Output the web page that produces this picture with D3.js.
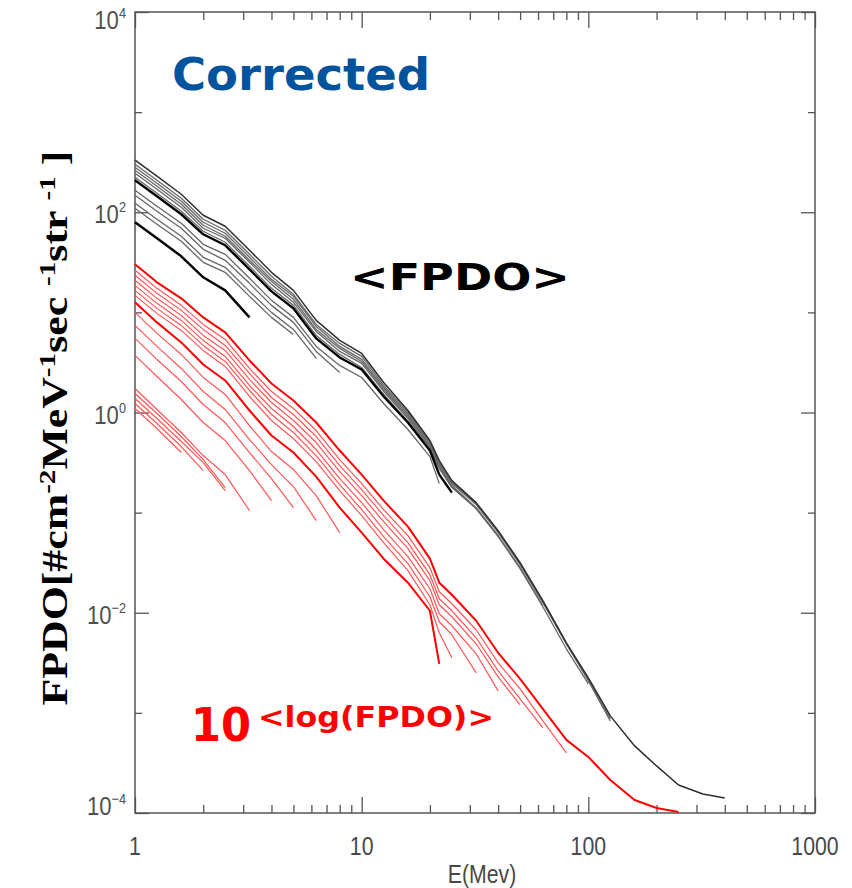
<!DOCTYPE html>
<html>
<head>
<meta charset="utf-8">
<script src="https://cdn.jsdelivr.net/npm/d3@7"></script>
<style>
  body { margin: 0; background: #fff; }
</style>
</head>
<body>
<svg width="852" height="888"></svg>
<script>
// energy grid (MeV) shared by every curve
const energy = [1, 1.25, 1.6, 2, 2.5, 3.2, 4, 5, 6.3, 8, 10, 12.5, 16, 20, 22, 25, 32, 40, 50, 63, 80, 100, 125, 160, 200, 250, 320, 400];

// <FPDO> curves, log10 of flux
const fpdoMean = [
  [2.52, 2.36, 2.18, 1.97, 1.86, 1.62, 1.40, 1.22, 0.92, 0.72, 0.59, 0.30, 0.02, -0.28, -0.48, -0.68, -0.90, -1.18, -1.50, -1.88, -2.30, -2.65, -3.03, -3.33, -3.53, -3.72, -3.81, -3.85],
  [2.48, 2.32, 2.14, 1.93, 1.82, 1.58, 1.36, 1.18, 0.88, 0.69, 0.56, 0.27, 0.00, -0.30, -0.50, -0.70, -0.91, -1.19, -1.51, -1.89, -2.31, -2.66, -3.06],
  [2.45, 2.29, 2.11, 1.90, 1.79, 1.55, 1.33, 1.16, 0.86, 0.66, 0.53, 0.25, -0.02, -0.32, -0.51, -0.71, -0.92, -1.20, -1.52, -1.90, -2.31, -2.68, -3.08],
  [2.42, 2.26, 2.08, 1.87, 1.76, 1.52, 1.31, 1.13, 0.83, 0.64, 0.51, 0.23, -0.04, -0.33, -0.53, -0.74, -0.96, -1.24, -1.56, -1.94, -2.36, -2.71],
  [2.39, 2.23, 2.05, 1.84, 1.74, 1.50, 1.28, 1.10, 0.81, 0.61, 0.49, 0.21, -0.06, -0.35, -0.54, -0.73, -0.95, -1.23, -1.55, -1.93],
  [2.35, 2.19, 2.01, 1.81, 1.70, 1.46, 1.24, 1.07, 0.77, 0.58, 0.45, 0.18, -0.09, -0.37, -0.56, -0.75, -0.96, -1.23],
  [2.32, 2.16, 1.98, 1.78, 1.67, 1.43, 1.21, 1.04, 0.74, 0.55, 0.43, 0.16, -0.10, -0.38, -0.62, -0.80],
  [2.22, 2.06, 1.89, 1.68, 1.58, 1.34, 1.12, 0.95, 0.66, 0.47, 0.35, 0.09, -0.17, -0.44, -0.71],
  [2.17, 2.01, 1.84, 1.63, 1.52, 1.29, 1.07, 0.90, 0.61, 0.40],
  [2.09, 1.93, 1.76, 1.55, 1.45, 1.21, 1.00, 0.83, 0.54],
  [2.04, 1.88, 1.71, 1.50, 1.40, 1.16, 0.95, 0.78],
  [1.90, 1.74, 1.56, 1.35, 1.22, 0.95]
];

// 10^<log(FPDO)> curves, log10 of flux
const fpdoLogMean = [
  [1.48, 1.30, 1.14, 0.95, 0.80, 0.52, 0.29, 0.12, -0.10, -0.38, -0.62, -0.88, -1.14, -1.46, -1.70, -1.82, -2.08, -2.40, -2.66, -2.96, -3.27, -3.44, -3.67, -3.87, -3.95, -3.99],
  [1.42, 1.24, 1.07, 0.88, 0.73, 0.44, 0.21, 0.04, -0.18, -0.47, -0.71, -0.97, -1.23, -1.55, -1.79, -1.91, -2.17, -2.50, -2.76, -3.08, -3.40],
  [1.37, 1.19, 1.02, 0.83, 0.67, 0.39, 0.15, -0.02, -0.24, -0.53, -0.77, -1.03, -1.30, -1.62, -1.86, -1.98, -2.25, -2.58, -2.86, -3.15],
  [1.32, 1.14, 0.97, 0.77, 0.62, 0.33, 0.10, -0.08, -0.30, -0.59, -0.83, -1.09, -1.36, -1.68, -1.92, -2.04, -2.31, -2.64, -2.92],
  [1.27, 1.09, 0.92, 0.72, 0.56, 0.27, 0.04, -0.14, -0.37, -0.66, -0.90, -1.17, -1.44, -1.76, -2.01, -2.13, -2.41, -2.78],
  [1.22, 1.04, 0.87, 0.67, 0.51, 0.22, -0.02, -0.20, -0.43, -0.72, -0.97, -1.24, -1.51, -1.84, -2.09, -2.22, -2.60],
  [1.17, 0.99, 0.82, 0.62, 0.46, 0.16, -0.08, -0.26, -0.49, -0.78, -1.03, -1.30, -1.58, -1.92, -2.20, -2.45],
  [1.10, 0.90, 0.70, 0.48, 0.32, 0.02, -0.23, -0.40, -0.64, -0.95, -1.20, -1.46, -1.70, -1.98, -2.51],
  [1.00, 0.79, 0.58, 0.35, 0.18, -0.13, -0.39, -0.57, -0.83, -1.20],
  [0.87, 0.66, 0.44, 0.21, 0.03, -0.27, -0.52, -0.74, -1.08],
  [0.74, 0.53, 0.31, 0.08, -0.10, -0.40, -0.66, -0.95],
  [0.57, 0.36, 0.13, -0.10, -0.28, -0.58, -0.88],
  [0.24, 0.03, -0.20, -0.43, -0.62, -0.98],
  [0.19, -0.01, -0.24, -0.47, -0.75],
  [0.14, -0.06, -0.29, -0.50, -0.78],
  [0.09, -0.11, -0.34, -0.58],
  [0.04, -0.16, -0.40]
];

const xMajor = [1, 10, 100, 1000];
const xMinor = [2, 3, 4, 5, 6, 7, 8, 9, 20, 30, 40, 50, 60, 70, 80, 90, 200, 300, 400, 500, 600, 700, 800, 900];
const yMajorExp = [-4, -2, 0, 2, 4];
const yMinorExp = [-3, -1, 1, 3];

const W = 852, H = 888;
const margin = {top: 12, right: 37, bottom: 75, left: 135};
const svg = d3.select("svg");

const x = d3.scaleLog().domain([1, 1000]).range([margin.left, W - margin.right]);
const y = d3.scaleLog().domain([1e-4, 1e4]).range([H - margin.bottom, margin.top]);

const axisColor = "#555";

// ticks (all inward)
function ticks(axis, at, vals, size) {
  const g = svg.append("g")
    .attr("transform", at)
    .call(axis.tickValues(vals).tickSizeInner(-size).tickSizeOuter(0).tickFormat(""));
  g.select(".domain").remove();
  g.selectAll("line").attr("stroke", axisColor).attr("stroke-width", 1.3);
}
const yMaj = yMajorExp.map(e => Math.pow(10, e));
const yMin = yMinorExp.map(e => Math.pow(10, e));
ticks(d3.axisBottom(x), `translate(0,${y.range()[0]})`, xMajor, 16);
ticks(d3.axisBottom(x), `translate(0,${y.range()[0]})`, xMinor, 8);
ticks(d3.axisTop(x), `translate(0,${y.range()[1]})`, xMajor, 16);
ticks(d3.axisTop(x), `translate(0,${y.range()[1]})`, xMinor, 8);
ticks(d3.axisLeft(y), `translate(${x.range()[0]},0)`, yMaj, 14);
ticks(d3.axisLeft(y), `translate(${x.range()[0]},0)`, yMin, 7);
ticks(d3.axisRight(y), `translate(${x.range()[1]},0)`, yMaj, 14);
ticks(d3.axisRight(y), `translate(${x.range()[1]},0)`, yMin, 7);

svg.append("rect")
  .attr("x", x.range()[0]).attr("y", y.range()[1])
  .attr("width", x.range()[1] - x.range()[0])
  .attr("height", y.range()[0] - y.range()[1])
  .attr("fill", "none").attr("stroke", axisColor).attr("stroke-width", 1.5);

// tick labels
const tickFont = "'Liberation Sans Narrow', 'Liberation Sans', Arial, sans-serif";
svg.append("g").selectAll("text")
  .data(xMajor).enter().append("text")
  .attr("transform", d => `translate(${x(d)},855) scale(0.85,1)`)
  .attr("text-anchor", "middle")
  .attr("font-family", tickFont).attr("font-size", 25)
  .attr("fill", "#484848")
  .text(d => d);

// label baselines: the end labels are nudged inside the frame like the original
const yLabelBase = e => e === 4 ? y(1e4) + 17 : e === -4 ? y(1e-4) + 2 : y(Math.pow(10, e)) + 11;
const yl = svg.append("g").selectAll("text")
  .data(yMajorExp).enter().append("text")
  .attr("transform", e => `translate(${x.range()[0] - 9},${yLabelBase(e)}) scale(0.85,1)`)
  .attr("text-anchor", "end")
  .attr("font-family", tickFont)
  .attr("fill", "#505050");
yl.append("tspan").attr("font-size", 26).text("10");
yl.append("tspan").attr("font-size", 15).attr("dy", -11).text(e => String(e).replace("-", "\u2212"));

svg.append("text")
  .attr("transform", `translate(${(x.range()[0] + x.range()[1]) / 2 + 7},883) scale(0.85,1)`)
  .attr("text-anchor", "middle")
  .attr("font-family", tickFont).attr("font-size", 25)
  .attr("fill", "#484848")
  .text("E(Mev)");

// y title
const yt = svg.append("text")
  .attr("text-anchor", "middle")
  .attr("font-family", "'Liberation Serif', 'Times New Roman', serif")
  .attr("font-weight", "bold")
  .attr("font-size", 36)
  .attr("fill", "#000");
const parts = [["FPDO[#cm", 0], ["-2", 1], ["MeV", 0], ["-1", 1], ["sec ", 0], ["-1", 1], ["str ", 0], ["-1", 1], [" ]", 0]];
let up = false;
parts.forEach(([t, sup]) => {
  const ts = yt.append("tspan").text(t);
  if (sup) { ts.attr("font-size", 24).attr("dy", -12); up = true; }
  else if (up) { ts.attr("dy", 12); up = false; }
});
const ytLen = yt.node().getComputedTextLength();
yt.attr("transform", `translate(67,428) rotate(-90) scale(${555 / ytLen},1)`);

// curves
const line = d3.line()
  .x((d, i) => x(energy[i]))
  .y(d => y(Math.pow(10, d)));

const plot = svg.append("g");

const blackThick = [6, 11];
const blackOrder = d3.range(fpdoMean.length).sort((a, b) => (blackThick.includes(a) - blackThick.includes(b)) || (b - a));
plot.selectAll(".black")
  .data(blackOrder).enter().append("path")
  .attr("class", "black")
  .attr("d", i => line(fpdoMean[i]))
  .attr("fill", "none")
  .attr("stroke", i => blackThick.includes(i) ? "#000" : i === 0 ? "#2e2e2e" : "#666")
  .attr("stroke-width", i => blackThick.includes(i) ? 2.4 : i === 0 ? 1.5 : 1.3)
  .attr("stroke-linejoin", "round");

const redThick = [0, 7];
const redOrder = d3.range(fpdoLogMean.length).sort((a, b) => (redThick.includes(a) - redThick.includes(b)) || (b - a));
plot.selectAll(".red")
  .data(redOrder).enter().append("path")
  .attr("class", "red")
  .attr("d", i => line(fpdoLogMean[i]))
  .attr("fill", "none")
  .attr("stroke", i => redThick.includes(i) ? "#ff0000" : "#ff5555")
  .attr("stroke-width", i => redThick.includes(i) ? 2 : 1.2)
  .attr("stroke-linejoin", "round");

// annotations
const annFont = "'DejaVu Sans', Verdana, sans-serif";
svg.append("text")
  .attr("x", 172).attr("y", 90)
  .attr("font-family", annFont).attr("font-weight", "bold").attr("font-size", 45)
  .attr("fill", "#00539c")
  .attr("textLength", 258).attr("lengthAdjust", "spacingAndGlyphs")
  .text("Corrected");

svg.append("text")
  .attr("x", 350).attr("y", 290)
  .attr("font-family", annFont).attr("font-weight", "bold").attr("font-size", 38)
  .attr("fill", "#000")
  .attr("textLength", 220).attr("lengthAdjust", "spacingAndGlyphs")
  .text("<FPDO>");

svg.append("text")
  .attr("x", 191).attr("y", 741)
  .attr("font-family", annFont).attr("font-weight", "bold").attr("font-size", 46)
  .attr("fill", "#ff0000")
  .attr("textLength", 60).attr("lengthAdjust", "spacingAndGlyphs")
  .text("10");

svg.append("text")
  .attr("x", 258).attr("y", 727)
  .attr("font-family", annFont).attr("font-weight", "bold").attr("font-size", 28)
  .attr("fill", "#ff0000")
  .attr("textLength", 236).attr("lengthAdjust", "spacingAndGlyphs")
  .text("<log(FPDO)>");
</script>
</body>
</html>
